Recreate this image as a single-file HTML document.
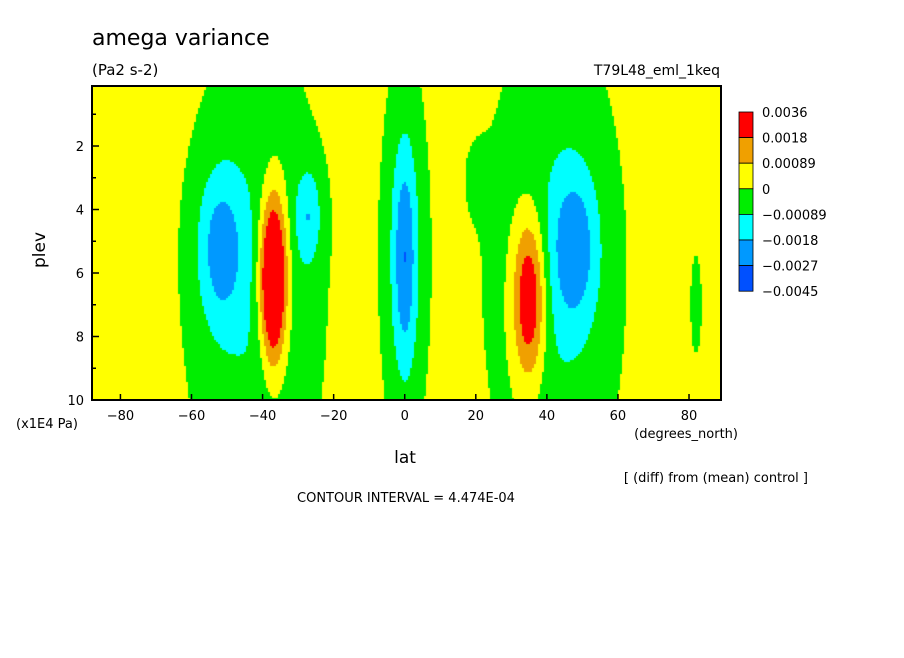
<!DOCTYPE html>
<html><head><meta charset="utf-8"><style>
body{margin:0;background:#fff;width:904px;height:654px;overflow:hidden;font-family:"DejaVu Sans","Liberation Sans",sans-serif;}
svg text{font-family:"DejaVu Sans","Liberation Sans",sans-serif;fill:#000;}
</style></head><body>
<svg id="chart" width="904" height="654" viewBox="0 0 904 654">
<text x="92" y="45" font-size="22">amega variance</text>
<text x="92" y="75" font-size="15">(Pa2 s-2)</text>
<text x="720" y="75" font-size="14" text-anchor="end">T79L48_eml_1keq</text>
<foreignObject x="92" y="86" width="629" height="314">
<canvas id="field" width="629" height="314" xmlns="http://www.w3.org/1999/xhtml" style="display:block"></canvas>
</foreignObject>
<g id="axes"></g>
<g id="legend"></g>
<text x="45" y="250" font-size="17" transform="rotate(-90 45 250)" text-anchor="middle">plev</text>
<text x="16" y="428" font-size="13">(x1E4 Pa)</text>
<text x="405" y="463" font-size="17" text-anchor="middle">lat</text>
<text x="738" y="438" font-size="13" text-anchor="end">(degrees_north)</text>
<text x="808" y="482" font-size="13" text-anchor="end">[ (diff) from (mean) control ]</text>
<text x="406" y="502" font-size="13" text-anchor="middle">CONTOUR INTERVAL = 4.474E-04</text>
</svg>
<script>
// blob parameters: lat center, plev center, lat width, plev width, amplitude
const blobLat = [-37, 35, -52, -27, 0, 48, -42, 0, 42, 20, 82];
const blobP   = [6.2, 6.8, 5.2, 4.2, 5.5, 5.2, 6.5, 5.5, 6, 3, 7];
const blobSL  = [2.6, 3.2, 4.5, 2.6, 2.3, 4.5, 12, 4.5, 12, 3, 1.5];
const blobSP  = [1.8, 1.8, 1.7, 1.1, 2.4, 1.7, 5, 4, 5, 1, 1.5];
const blobAmp = [0.0052, 0.0034, -0.0019, -0.0016, -0.0019, -0.0019, -0.00125, -0.0011, -0.00125, -0.0003, -0.0005];
const baseVal = 0.0003;
const levelVals = [0.0036, 0.0018, 0.00089, 0, -0.00089, -0.0018, -0.0027, -0.0045];
const levelLabels = ["0.0036","0.0018","0.00089","0","-0.00089","-0.0018","-0.0027","-0.0045"];
const levelColors = ["#ff0000","#f0a000","#ffff00","#00ee00","#00ffff","#0099ff","#0050ff"];
const xTicks = [-80,-60,-40,-20,0,20,40,60,80];
const yTicks = [2,4,6,8,10];

const X0=92,X1=721,Y0=86,Y1=400;
const latMin=-88,latMax=89,pMin=0.11,pMax=10;
function xs(lat){return X0+(lat-latMin)/(latMax-latMin)*(X1-X0);}
function ys(p){return Y0+(p-pMin)/(pMax-pMin)*(Y1-Y0);}
function field(lat,p){let v=baseVal;for(let i=0;i<blobLat.length;i++){const dx=(lat-blobLat[i])/blobSL[i],dy=(p-blobP[i])/blobSP[i];v+=blobAmp[i]*Math.exp(-0.5*(dx*dx+dy*dy));}return v;}
function colorFor(v){for(let i=0;i<levelColors.length;i++){if(v>=levelVals[i+1])return levelColors[i];}return levelColors[levelColors.length-1];}
const cv=document.getElementById('field'),ctx=cv.getContext('2d');
const step=2;
for(let px=0;px<629;px+=step){for(let py=0;py<314;py+=step){
 const lat=latMin+(px+1)/(X1-X0)*(latMax-latMin), p=pMin+(py+1)/(Y1-Y0)*(pMax-pMin);
 ctx.fillStyle=colorFor(field(lat,p));ctx.fillRect(px,py,step,step);}}
const NS='http://www.w3.org/2000/svg';
const ax=document.getElementById('axes');
function mk(tag,attrs){const e=document.createElementNS(NS,tag);for(const k in attrs)e.setAttribute(k,attrs[k]);return e;}
const frame=mk('rect',{x:X0,y:Y0,width:X1-X0,height:Y1-Y0,fill:'none',stroke:'#000','stroke-width':2});


ax.appendChild(frame);
xTicks.forEach(t=>{const x=xs(t);
 const l=mk('line',{x1:x,x2:x,y1:Y1,y2:Y1-6,stroke:'#000','stroke-width':1.5});
 
 
 ax.appendChild(l);
 const tx=mk('text',{x:x,y:Y1+20,'font-size':13,'text-anchor':'middle'});tx.textContent=t<0?'\u2212'+(-t):t;
 
 
 ax.appendChild(tx);});
for(let p=1;p<=10;p++){const y=ys(p);
 const l=mk('line',{x1:X0,x2:X0+(p%2?4:7),y1:y,y2:y,stroke:'#000','stroke-width':1.5});
 
 
 ax.appendChild(l);}
yTicks.forEach(t=>{const tx=mk('text',{x:X0-8,y:ys(t)+5,'font-size':13,'text-anchor':'end'});tx.textContent=t;
 
 
 ax.appendChild(tx);});
const lg=document.getElementById('legend');
const LX=739,LY=112,LH=25.6;
levelColors.forEach((c,i)=>{const r=mk('rect',{x:LX,y:LY+i*LH,width:14,height:LH,fill:c,stroke:'#000','stroke-width':0.8});
 
 
 lg.appendChild(r);});
levelLabels.forEach((s,i)=>{const tx=mk('text',{x:LX+23,y:LY+i*LH+5,'font-size':13});tx.textContent=s.replace('-','\u2212');
 
 
 lg.appendChild(tx);});
</script>
</body></html>
